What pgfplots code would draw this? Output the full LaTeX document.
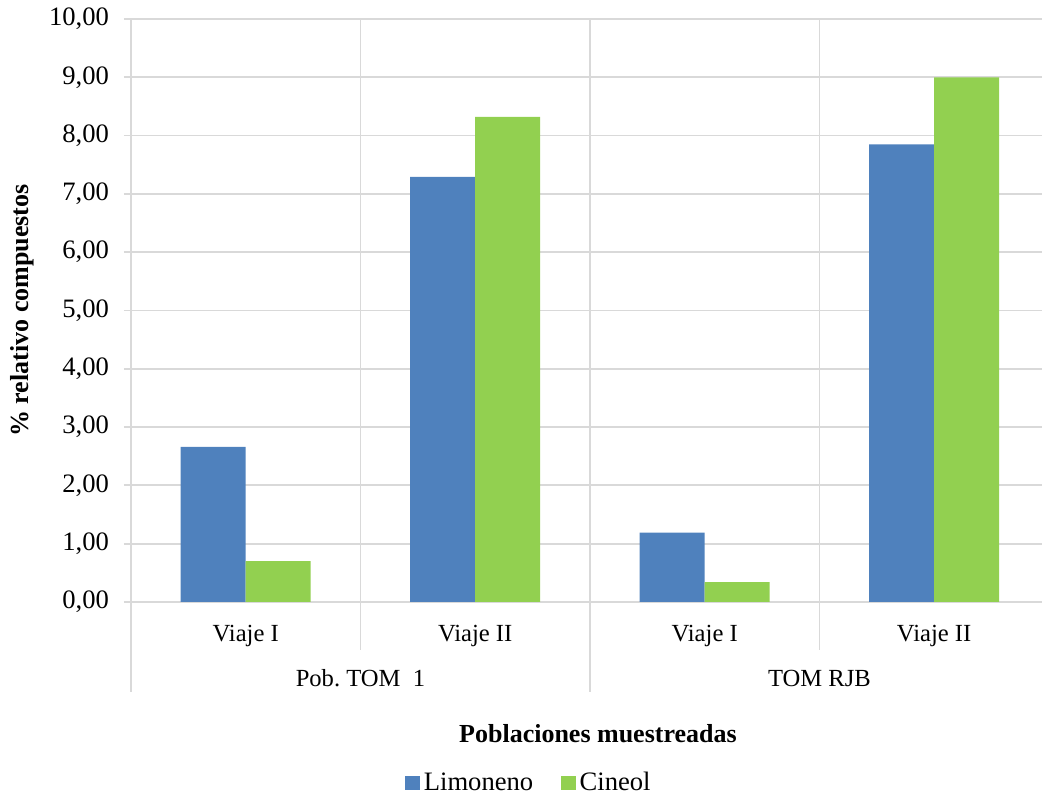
\documentclass[border=0pt]{standalone}
\usepackage{fontspec}
\setmainfont{Liberation Serif}
\usepackage{pgfplots}
\pgfplotsset{compat=1.18}
\definecolor{limo}{HTML}{4F81BD}
\definecolor{cine}{HTML}{92D050}
\definecolor{gridc}{HTML}{D9D9D9}
\frenchspacing
\begin{document}
\begin{tikzpicture}
\path[use as bounding box] (-65.5pt,-97pt) rectangle (456pt,301pt);
\begin{axis}[name=ax, at={(0,0)}, anchor=south west,
  scale only axis, width=455.5pt, height=291.5pt,
  ybar=0pt, bar width=32.5pt, clip=false,
  xmin=-0.5, xmax=3.47, ymin=0, ymax=10,
  ytick={0,1,...,10},
  xtick={0,1,2,3}, xticklabels={Viaje I, Viaje II, Viaje I, Viaje II},
  axis line style={draw=none},
  ymajorgrids, grid style={gridc, line width=0.9pt},
  major y tick style={gridc, line width=0.9pt}, major x tick style={draw=none},
  tick align=outside, major tick length=3.5pt,
  ytick pos=left, xtick pos=bottom,
  /pgf/number format/fixed, /pgf/number format/fixed zerofill,
  /pgf/number format/precision=2, /pgf/number format/use comma,
  /pgf/number format/assume math mode=true,
  yticklabel style={font=\fontsize{13.3}{15}\selectfont, xshift=-4pt},
  xticklabel style={font=\fontsize{12.3}{14}\selectfont, anchor=base, yshift=-16.35pt},
  ylabel={\% relativo compuestos},
  ylabel style={font=\fontsize{13}{15}\selectfont\bfseries, at={(axis description cs:-0.1197,0.5)}, anchor=center},
  xlabel={Poblaciones muestreadas},
  xlabel style={font=\fontsize{13}{15}\selectfont\bfseries, at={(axis description cs:0.5126,-0.2407)}, anchor=base},
  legend columns=2,
  legend style={draw=none, at={(0.438,-0.3105)}, anchor=center, font=\fontsize{13.3}{15}\selectfont,
    /tikz/every even column/.append style={column sep=12pt}},
  legend image code/.code={\fill[#1] (0pt,-3.6pt) rectangle (7.2pt,3.6pt);},
]
\draw[gridc, line width=0.9pt] (axis cs:-0.5,10) -- (axis cs:-0.5,0) -- ++(0pt,-45pt);
\draw[gridc, line width=0.9pt] (axis cs:0.5,10) -- (axis cs:0.5,0) -- ++(0pt,-24pt);
\draw[gridc, line width=0.9pt] (axis cs:1.5,10) -- (axis cs:1.5,0) -- ++(0pt,-45pt);
\draw[gridc, line width=0.9pt] (axis cs:2.5,10) -- (axis cs:2.5,0) -- ++(0pt,-24pt);
\addplot[fill=limo, draw=none] coordinates {(0,2.66) (1,7.29) (2,1.19) (3,7.85)};
\addplot[fill=cine, draw=none] coordinates {(0,0.70) (1,8.32) (2,0.34) (3,9.00)};
\legend{Limoneno, Cineol}
\node[anchor=base, font=\fontsize{12.3}{14}\selectfont] at (axis cs:0.5,0) [yshift=-42.35pt] {Pob. TOM~~1};
\node[anchor=base, font=\fontsize{12.3}{14}\selectfont] at (axis cs:2.5,0) [yshift=-42.35pt] {TOM RJB};
\end{axis}
\end{tikzpicture}
\end{document}
